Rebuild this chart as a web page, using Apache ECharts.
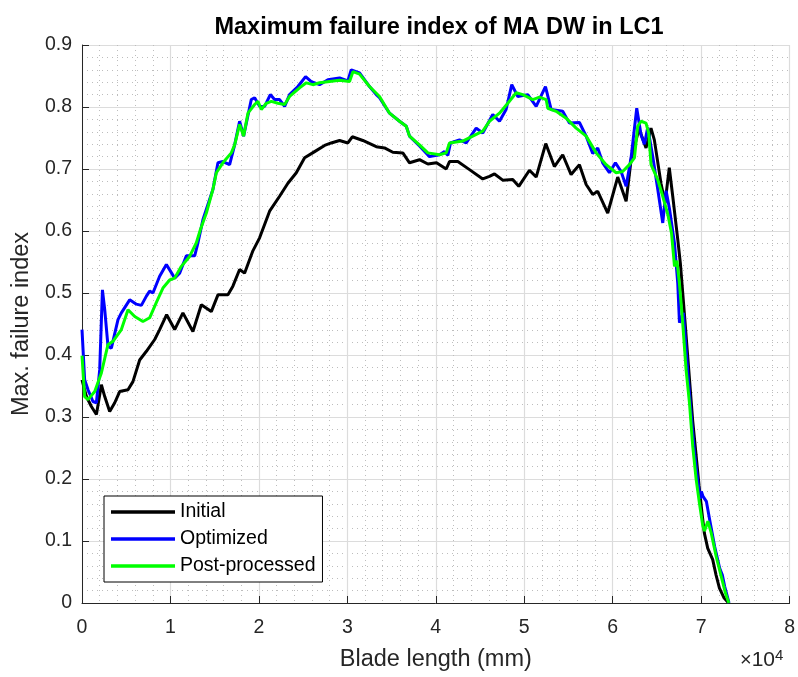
<!DOCTYPE html>
<html>
<head>
<meta charset="utf-8">
<script src="https://cdn.jsdelivr.net/npm/echarts@6/dist/echarts.min.js"></script>
<style>
  html, body { margin: 0; padding: 0; background: #fff; }
  #chart { width: 798px; height: 677px; }
</style>
</head>
<body>
<div id="chart"></div>
<script>
// Blade position (mm) and maximum failure index, one pair per station.
const initial = [
  [0, 0.360], [500, 0.333], [1060, 0.317], [1630, 0.304], [2190, 0.352], [2570, 0.333],
  [3130, 0.309], [3700, 0.323], [4260, 0.341], [5200, 0.344], [5760, 0.357], [6520, 0.392],
  [7280, 0.406], [8220, 0.425], [8780, 0.441], [9570, 0.465], [10480, 0.441], [11410, 0.468],
  [12540, 0.438], [13490, 0.481], [14620, 0.470], [15370, 0.497], [16500, 0.497], [17060, 0.511],
  [17820, 0.538], [18380, 0.532], [19320, 0.568], [20080, 0.589], [21210, 0.632], [22340, 0.656],
  [23280, 0.677], [24230, 0.694], [25170, 0.718], [26300, 0.728], [27430, 0.738], [28180, 0.742],
  [29120, 0.746], [30060, 0.742], [30560, 0.752], [31750, 0.746], [33270, 0.736], [34200, 0.734],
  [35140, 0.727], [36270, 0.726], [37030, 0.710], [38160, 0.715], [39100, 0.708], [40080, 0.710],
  [41180, 0.700], [41550, 0.712], [42490, 0.712], [43810, 0.699], [45310, 0.684], [46070, 0.688],
  [46640, 0.692], [47570, 0.682], [48700, 0.683], [49380, 0.672], [50590, 0.698], [51350, 0.687],
  [52430, 0.741], [53410, 0.704], [54350, 0.723], [55300, 0.691], [56240, 0.707], [57000, 0.675],
  [57740, 0.659], [58310, 0.664], [59440, 0.629], [60570, 0.687], [61520, 0.648], [62080, 0.715],
  [62980, 0.765], [63770, 0.734], [64330, 0.766], [64710, 0.747], [65460, 0.677], [65920, 0.645],
  [66400, 0.702], [66790, 0.656], [67050, 0.624], [67360, 0.586], [67650, 0.548], [68100, 0.468],
  [68660, 0.365], [69040, 0.295], [69420, 0.240], [69760, 0.190], [70100, 0.145], [70360, 0.113],
  [70750, 0.088], [71310, 0.070], [71690, 0.045], [72070, 0.024], [72600, 0.008], [73110, 0.000]
];

const optimized = [
  [0, 0.441], [300, 0.360], [680, 0.344], [1240, 0.325], [1630, 0.323], [2000, 0.376],
  [2310, 0.505], [2570, 0.473], [2940, 0.414], [3320, 0.411], [4070, 0.457], [4450, 0.468],
  [5390, 0.489], [6150, 0.482], [6710, 0.480], [7280, 0.495], [7650, 0.503], [8020, 0.500],
  [8780, 0.527], [9540, 0.546], [10480, 0.524], [11040, 0.532], [11800, 0.560], [12740, 0.560],
  [13110, 0.581], [13670, 0.618], [14800, 0.667], [15370, 0.710], [15930, 0.712], [16690, 0.707],
  [17260, 0.739], [17820, 0.777], [18270, 0.753], [19140, 0.812], [19520, 0.815], [20080, 0.801],
  [20650, 0.801], [21290, 0.820], [21770, 0.812], [22340, 0.812], [22910, 0.801], [23470, 0.820],
  [24410, 0.833], [25280, 0.849], [25920, 0.841], [26860, 0.836], [27800, 0.844], [29120, 0.847],
  [30060, 0.842], [30440, 0.860], [31380, 0.855], [32510, 0.833], [33270, 0.820], [33640, 0.815],
  [34770, 0.790], [35900, 0.777], [36660, 0.769], [37030, 0.753], [38160, 0.737], [39290, 0.720],
  [40420, 0.723], [40990, 0.728], [41360, 0.722], [41660, 0.742], [42680, 0.747], [43440, 0.742],
  [44570, 0.766], [45310, 0.758], [46440, 0.788], [47200, 0.777], [47950, 0.796], [48590, 0.836],
  [49270, 0.817], [50400, 0.820], [51350, 0.801], [52400, 0.833], [53040, 0.796], [54350, 0.793],
  [55110, 0.774], [56240, 0.775], [57000, 0.753], [57740, 0.725], [58310, 0.734], [58870, 0.710],
  [59630, 0.694], [60310, 0.710], [60950, 0.696], [61520, 0.672], [62080, 0.718], [62720, 0.798],
  [63210, 0.755], [63590, 0.740], [63960, 0.767], [64530, 0.720], [65100, 0.667], [65660, 0.613],
  [66040, 0.665], [66420, 0.636], [66990, 0.580], [67360, 0.515], [67550, 0.452], [68000, 0.468],
  [68510, 0.370], [68890, 0.300], [69270, 0.240], [69610, 0.199], [69900, 0.168], [70030, 0.180],
  [70210, 0.172], [70590, 0.164], [70970, 0.134], [71530, 0.091], [72100, 0.056], [72400, 0.045],
  [72660, 0.027], [73150, 0.000]
];

const postProcessed = [
  [0, 0.399], [300, 0.333], [680, 0.328], [1440, 0.341], [2190, 0.371], [2940, 0.417],
  [3500, 0.422], [4450, 0.441], [5200, 0.473], [5960, 0.462], [6890, 0.454], [7650, 0.460],
  [8410, 0.485], [9150, 0.508], [9910, 0.521], [10480, 0.524], [11230, 0.543], [12170, 0.559],
  [12930, 0.581], [13380, 0.602], [14060, 0.629], [14800, 0.667], [15190, 0.694], [15930, 0.710],
  [16880, 0.726], [17260, 0.739], [17820, 0.772], [18270, 0.753], [18760, 0.790], [19520, 0.804],
  [19890, 0.809], [20270, 0.796], [20840, 0.806], [21400, 0.809], [22150, 0.806], [22910, 0.804],
  [23470, 0.817], [24600, 0.831], [25360, 0.839], [26100, 0.836], [26860, 0.839], [27990, 0.841],
  [29120, 0.843], [30250, 0.841], [30630, 0.857], [31380, 0.853], [32510, 0.833], [33640, 0.817],
  [34770, 0.790], [35900, 0.777], [36660, 0.769], [37030, 0.753], [38160, 0.739], [39100, 0.726],
  [40420, 0.723], [41180, 0.726], [41550, 0.742], [43050, 0.745], [44180, 0.753], [45310, 0.761],
  [46070, 0.777], [47200, 0.790], [48140, 0.806], [49090, 0.823], [49840, 0.820], [50970, 0.812],
  [51720, 0.816], [52480, 0.812], [52660, 0.798], [53610, 0.793], [54740, 0.782], [55870, 0.766],
  [57000, 0.753], [58130, 0.726], [59260, 0.707], [60390, 0.694], [61130, 0.696], [61890, 0.707],
  [62460, 0.718], [62830, 0.769], [63210, 0.777], [63770, 0.774], [64070, 0.758], [64340, 0.707],
  [65090, 0.683], [65660, 0.656], [66230, 0.627], [66650, 0.597], [66990, 0.543], [67260, 0.552],
  [67550, 0.515], [67890, 0.457], [68300, 0.376], [68680, 0.323], [69050, 0.253], [69440, 0.199],
  [69810, 0.161], [70190, 0.124], [70380, 0.116], [70760, 0.132], [71140, 0.113], [71700, 0.075],
  [72270, 0.043], [72750, 0.016], [73130, 0.000]
];

const seriesNames = ['Initial', 'Optimized', 'Post-processed'];
const seriesColors = ['#000000', '#0000ff', '#00ff00'];

const FONT = '"Liberation Sans", Arial, Helvetica, sans-serif';
const chart = echarts.init(document.getElementById('chart'), null, { renderer: 'canvas' });

const gridLine = { color: '#dcdcdc', width: 1.2 };
const minorLine = { color: '#bdbdbd', width: 1, type: [1, 4] };

chart.setOption({
  backgroundColor: '#ffffff',
  animation: false,
  title: {
    text: 'Maximum failure index of MA DW in LC1',
    left: 434, top: 11, textAlign: 'center',
    textStyle: { fontFamily: FONT, fontSize: 23.5, fontWeight: 'bold', color: '#000' }
  },
  grid: { left: 82, top: 45, width: 708, height: 558, containLabel: false },
  legend: {
    orient: 'vertical', left: 104, top: 496,
    data: seriesNames,
    icon: 'rect',
    itemWidth: 64, itemHeight: 3.5, itemGap: 7,
    padding: [6, 7, 6, 7],
    borderColor: '#000', borderWidth: 1, backgroundColor: '#fff',
    textStyle: { fontFamily: FONT, fontSize: 19.5, color: '#000' }
  },
  xAxis: {
    type: 'value', min: 0, max: 80000, interval: 10000,
    name: 'Blade length (mm)', nameLocation: 'middle', nameGap: 45,
    nameTextStyle: { fontFamily: FONT, fontSize: 23.5, color: '#262626' },
    axisLine: { show: true, onZero: false, lineStyle: { color: '#262626', width: 1 } },
    axisTick: { show: true, inside: true, length: 7, lineStyle: { color: '#262626' } },
    axisLabel: { fontFamily: FONT, fontSize: 19.5, color: '#262626', margin: 15,
      formatter: v => String(v / 10000) },
    splitLine: { show: true, lineStyle: gridLine },
    minorTick: { show: false, splitNumber: 5 },
    minorSplitLine: { show: true, lineStyle: minorLine }
  },
  yAxis: {
    type: 'value', min: 0, max: 0.9, interval: 0.1,
    name: 'Max. failure index', nameLocation: 'middle', nameGap: 42,
    nameTextStyle: { fontFamily: FONT, fontSize: 23.5, color: '#262626' },
    axisLine: { show: true, onZero: false, lineStyle: { color: '#262626', width: 1 } },
    axisTick: { show: true, inside: true, length: 7, lineStyle: { color: '#262626' } },
    axisLabel: { fontFamily: FONT, fontSize: 19.5, color: '#262626', margin: 10,
      formatter: v => String(Math.round(v * 10) / 10) },
    splitLine: { show: true, lineStyle: gridLine },
    minorTick: { show: false, splitNumber: 5 },
    minorSplitLine: { show: true, lineStyle: minorLine }
  },
  graphic: [{
    type: 'text', left: 740, top: 648,
    style: {
      text: '{x|×}{b|10}{s|4}',
      rich: {
        x: { fontFamily: FONT, fontSize: 20, fill: '#262626' },
        b: { fontFamily: FONT, fontSize: 21, fill: '#262626' },
        s: { fontFamily: FONT, fontSize: 15, fill: '#262626', verticalAlign: 'top', padding: [0, 0, 9, 0] }
      }
    }
  }],
  series: [initial, optimized, postProcessed].map((d, i) => ({
    name: seriesNames[i], type: 'line', data: d,
    symbol: 'none', showSymbol: false, smooth: false,
    color: seriesColors[i],
    lineStyle: { color: seriesColors[i], width: 3 },
    z: 2 + i
  }))
});
</script>
</body>
</html>
